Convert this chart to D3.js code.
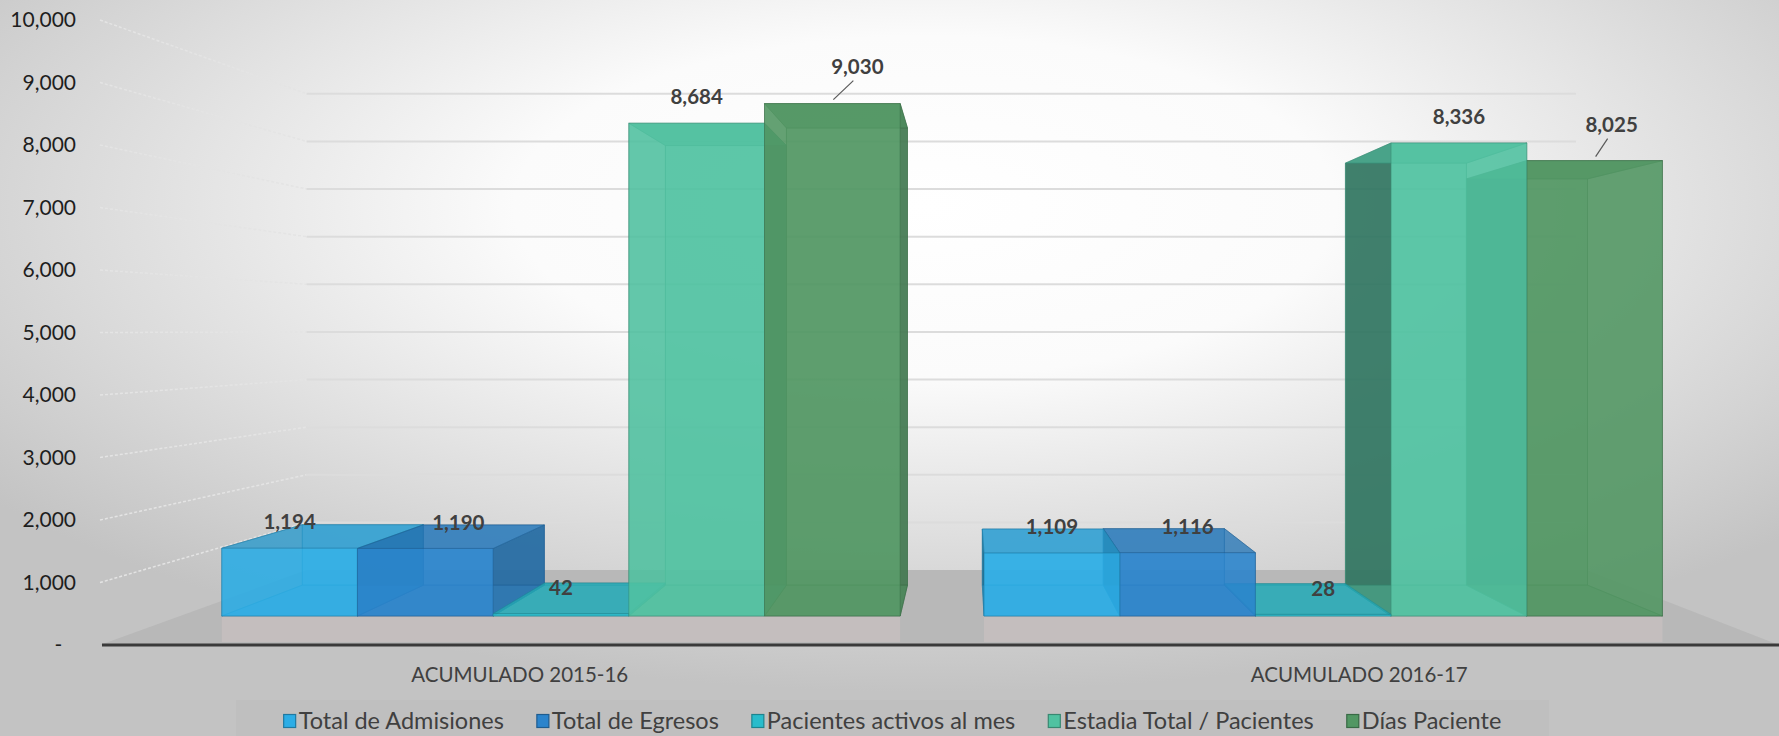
<!DOCTYPE html>
<html>
<head>
<meta charset="utf-8">
<script src="https://cdn.jsdelivr.net/npm/d3@7"></script>
<style>
    body { margin: 0; overflow: hidden; }
    svg { display: block; font-family: Lato, 'Open Sans', sans-serif; }
</style>
</head>
<body>
<div id="chart"></div>
<script>
const categories = ['ACUMULADO 2015-16', 'ACUMULADO 2016-17'];
const seriesNames = ['Total de Admisiones', 'Total de Egresos', 'Pacientes activos al mes', 'Estadia Total / Pacientes', 'Días Paciente'];
const admisiones = [1194, 1109];
const egresos = [1190, 1116];
const pacientesActivos = [42, 28];
const estadia = [8684, 8336];
const diasPaciente = [9030, 8025];
const yTicks = [0, 1000, 2000, 3000, 4000, 5000, 6000, 7000, 8000, 9000, 10000];

const seriesColors = ['#2cade6', '#2b84cc', '#29bccb', '#50c2a1', '#529763'];
// labels Excel moved by hand (two of them with leader lines)
const labelNudges = [
    {cat: 0, series: 1, dx: 33, dy: 0, leader: false},
    {cat: 0, series: 4, dx: 25, dy: -11, leader: true},
    {cat: 1, series: 4, dx: 17, dy: -10, leader: true}
];

class Chart3D {

    constructor() {
        this.width = 1779;
        this.height = 736;
        this.vp = {x: 968, y: 330};  // vanishing point
        this.sFront = 0.908;         // depth of bar front faces
        this.sBack = 0.81;           // depth of bar back faces
        this.sWall = 0.762;          // depth of back wall

        this.svg = d3.select('#chart').append('svg')
            .attr('width', this.width)
            .attr('height', this.height);

        this.x = d3.scaleBand()
            .domain(categories)
            .range([100, 1779])
            .paddingInner(0.11)
            .paddingOuter(0.055);
        this.xs = d3.scaleBand()
            .domain(seriesNames)
            .range([0, this.x.bandwidth()]);
        this.y = d3.scaleLinear()
            .domain([0, 10000])
            .range([645, 20]);

        this.values = [admisiones, egresos, pacientesActivos, estadia, diasPaciente];
        this.drawBackground();
        this.drawWalls();
        this.drawBars();
        this.drawLabels();
        this.drawLegend();
    }

    project(X, Y, s) {
        return [this.vp.x + s * (X - this.vp.x), this.vp.y + s * (Y - this.vp.y)];
    }

    drawBackground() {
        let self = this;
        let defs = self.svg.append('defs');
        let bg = defs.append('radialGradient')
            .attr('id', 'bgGrad')
            .attr('cx', '52%').attr('cy', '28%').attr('r', '66%');
        bg.append('stop').attr('offset', '0%').attr('stop-color', '#ffffff');
        bg.append('stop').attr('offset', '35%').attr('stop-color', '#fbfbfb');
        bg.append('stop').attr('offset', '100%').attr('stop-color', '#c3c3c3');

        self.svg.append('rect')
            .attr('width', self.width)
            .attr('height', self.height)
            .attr('fill', 'url(#bgGrad)');
    }

    drawWalls() {
        let self = this;
        let [X0, X1] = self.x.range();
        let g = self.svg.append('g').attr('class', 'walls');

        g.selectAll('.sideGrid')
            .data(yTicks.filter(d => d > 0))
            .enter()
            .append('line')
            .attr('class', 'sideGrid')
            .attr('x1', d => self.project(X0, self.y(d), 1)[0])
            .attr('y1', d => self.project(X0, self.y(d), 1)[1])
            .attr('x2', d => self.project(X0, self.y(d), self.sWall)[0])
            .attr('y2', d => self.project(X0, self.y(d), self.sWall)[1])
            .style('stroke', '#e4e4e4')
            .style('stroke-width', 1.5)
            .style('stroke-dasharray', '3,2');

        g.selectAll('.backGrid')
            .data(yTicks.filter(d => d > 0))
            .enter()
            .append('line')
            .attr('class', 'backGrid')
            .attr('x1', d => self.project(X0, self.y(d), self.sWall)[0])
            .attr('y1', d => self.project(X0, self.y(d), self.sWall)[1])
            .attr('x2', d => self.project(X1, self.y(d), self.sWall)[0] - 10)
            .attr('y2', d => self.project(X1, self.y(d), self.sWall)[1])
            .style('stroke', '#dcdcdc')
            .style('stroke-width', 2);

        let y0 = self.y(0);
        let corners = [
            self.project(X0, y0, 1),
            self.project(X1, y0, 1),
            self.project(X1, y0, self.sWall),
            self.project(X0, y0, self.sWall)
        ];
        g.append('polygon')
            .attr('points', corners.map(p => p.join(',')).join(' '))
            .style('fill', '#b8b8b8');

        // lighter band on the floor in front of each cluster
        categories.forEach(cat => {
            let a = self.project(self.x(cat), y0, self.sFront);
            let b = self.project(self.x(cat) + self.x.bandwidth(), y0, self.sFront);
            g.append('rect')
                .attr('x', a[0])
                .attr('y', a[1])
                .attr('width', b[0] - a[0])
                .attr('height', y0 - 3 - a[1])
                .style('fill', '#cdc3c3')
                .style('opacity', 0.55);
        });

        let axis = d3.axisLeft(self.y)
            .tickValues(yTicks)
            .tickSize(0)
            .tickPadding(8)
            .tickFormat(d => d === 0 ? '-' : d3.format(',')(d));
        let ax = self.svg.append('g')
            .attr('transform', 'translate(84,0)')
            .call(axis);
        ax.select('.domain').remove();
        ax.selectAll('text')
            .style('font-family', 'Lato, sans-serif')
            .style('font-size', '21px')
            .style('fill', '#1e1e1e')
            .attr('dx', d => d === 0 ? '-0.65em' : 0);
    }

    drawBars() {
        let self = this;
        let g = self.svg.append('g').attr('class', 'bars');
        let y0 = self.y(0);
        let sf = self.sFront, sb = self.sBack;
        let P = (X, Y, s) => self.project(X, Y, s);
        let faces = [];
        categories.forEach((cat, ci) => {
            seriesNames.forEach((name, si) => {
                let v = self.values[si][ci];
                let X0 = self.x(cat) + self.xs(name);
                let X1 = X0 + self.xs.bandwidth();
                let Y1 = self.y(v);
                let c = d3.color(seriesColors[si]);
                let rightOfVp = (X0 + X1) / 2 > self.vp.x;
                let dist = Math.abs((X0 + X1) / 2 - self.vp.x);
                // layer: 0 back, 1 sides, 2 top/bottom, 3 front
                faces.push(
                    {layer: 0, dist, c, op: 0.45, pts: [P(X0, y0, sb), P(X1, y0, sb), P(X1, Y1, sb), P(X0, Y1, sb)], fill: c},
                    {layer: 1, dist, c, op: rightOfVp ? 0.85 : 0.15,
                        pts: [P(X0, y0, sf), P(X0, Y1, sf), P(X0, Y1, sb), P(X0, y0, sb)], fill: c.darker(1.6)},
                    {layer: 1, dist, c, op: rightOfVp ? 0.15 : 0.85,
                        pts: [P(X1, y0, sf), P(X1, Y1, sf), P(X1, Y1, sb), P(X1, y0, sb)], fill: c.darker(0.7)},
                    {layer: 2, dist, c, op: 0.5, pts: [P(X0, y0, sf), P(X1, y0, sf), P(X1, y0, sb), P(X0, y0, sb)], fill: c.darker(0.2)},
                    {layer: 2, dist, c, op: 0.75, pts: [P(X0, Y1, sf), P(X1, Y1, sf), P(X1, Y1, sb), P(X0, Y1, sb)], fill: c.darker(0.3)},
                    {layer: 3, dist, c, op: 0.87, pts: [P(X0, y0, sf), P(X1, y0, sf), P(X1, Y1, sf), P(X0, Y1, sf)], fill: c}
                );
            });
        });
        faces.sort((a, b) => a.layer - b.layer || b.dist - a.dist);

        g.selectAll('polygon')
            .data(faces)
            .enter()
            .append('polygon')
            .attr('points', d => d.pts.map(p => p.join(',')).join(' '))
            .style('fill', d => d.fill)
            .style('fill-opacity', d => d.op)
            .style('stroke', d => d.c.darker(0.9))
            .style('stroke-opacity', 0.5)
            .style('stroke-width', 1);
    }

    drawLabels() {
        let self = this;
        let g = self.svg.append('g').attr('class', 'labels');
        categories.forEach((cat, ci) => {
            g.append('text')
                .text(cat)
                .attr('x', self.x(cat) + self.x.bandwidth() / 2)
                .attr('y', 675)
                .attr('dy', '0.35em')
                .attr('text-anchor', 'middle')
                .style('font-size', '20.5px')
                .style('fill', '#404040');

            seriesNames.forEach((name, si) => {
                let v = self.values[si][ci];
                let Xc = self.x(cat) + self.xs(name) + self.xs.bandwidth() / 2;
                let top = self.project(Xc, self.y(v), self.sFront);
                let nudge = labelNudges.find(n => n.cat === ci && n.series === si);
                let lx = top[0] + (nudge ? nudge.dx : 0);
                let ly = top[1] - 26 + (nudge ? nudge.dy : 0);
                g.append('text')
                    .text(d3.format(',')(v))
                    .attr('x', lx)
                    .attr('y', ly)
                    .attr('dy', '0.35em')
                    .attr('text-anchor', 'middle')
                    .style('font-size', '20.5px')
                    .style('font-weight', 'bold')
                    .style('fill', '#404040');
                if (nudge && nudge.leader) {
                    g.append('line')
                        .attr('x1', lx - 4)
                        .attr('y1', ly + 14)
                        .attr('x2', top[0] + 1)
                        .attr('y2', top[1] - 4)
                        .style('stroke', '#595959')
                        .style('stroke-width', 1.2);
                }
            });
        });

        self.svg.append('line')
            .attr('x1', self.x.range()[0] + 2)
            .attr('x2', self.x.range()[1])
            .attr('y1', self.y(0))
            .attr('y2', self.y(0))
            .style('stroke', '#3a3a3a')
            .style('stroke-width', 3);
    }

    drawLegend() {
        let self = this;
        let box = {x: 236, y: 700, w: 1313, h: 36};
        let g = self.svg.append('g').attr('class', 'legend');
        g.append('rect')
            .attr('x', box.x)
            .attr('y', box.y)
            .attr('width', box.w)
            .attr('height', box.h)
            .style('fill', '#bfbfbf');

        let items = g.selectAll('.legendItem')
            .data(seriesNames)
            .enter()
            .append('g')
            .attr('class', 'legendItem');
        items.append('rect')
            .attr('width', 12)
            .attr('height', 13)
            .attr('y', -6.5)
            .style('fill', (d, i) => seriesColors[i])
            .style('stroke', (d, i) => d3.color(seriesColors[i]).darker(1))
            .style('stroke-width', 1.2);
        items.append('text')
            .text(d => d)
            .attr('x', 15)
            .attr('dy', '0.35em')
            .style('font-size', '23.5px')
            .style('fill', '#404040');

        let widths = [];
        items.each(function() { widths.push(15 + this.querySelector('text').getComputedTextLength()); });
        let gap = 33;
        let total = d3.sum(widths) + gap * (widths.length - 1);
        let cx = box.x + (box.w - total) / 2;
        items.attr('transform', (d, i) => {
            let pos = cx + d3.sum(widths.slice(0, i)) + gap * i;
            return `translate(${pos},${box.y + 21})`;
        });
    }

}

new Chart3D();
</script>
</body>
</html>
